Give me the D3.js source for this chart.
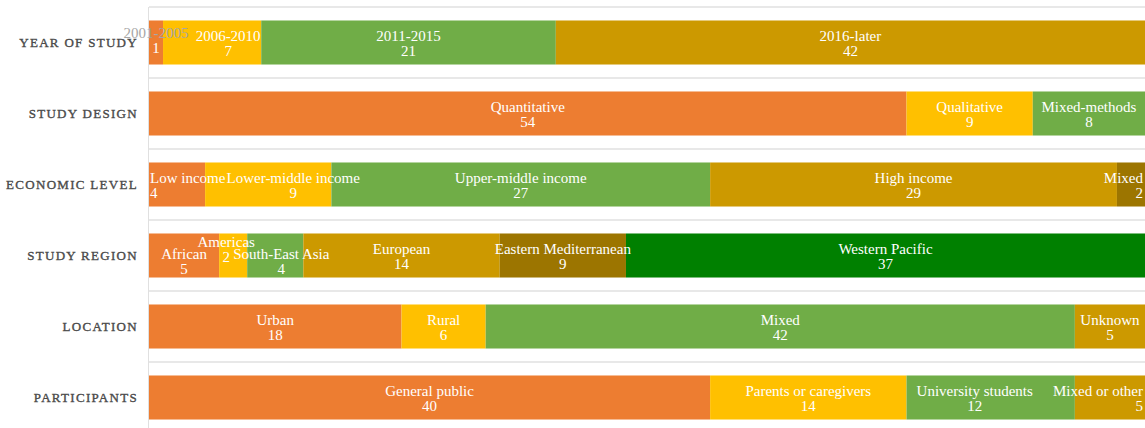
<!DOCTYPE html>
<html>
<head>
<meta charset="utf-8">
<script src="https://cdn.jsdelivr.net/npm/d3@7"></script>
<style>
  body { margin: 0; background: #fff; }
  .row-label { font-family: "Liberation Serif", serif; font-size: 13px; letter-spacing: 1.3px; fill: #4a4a4a; stroke: #4a4a4a; stroke-width: 0.35px; }
  .seg-label { font-family: "Liberation Serif", serif; font-size: 15px; fill: #fff; }
</style>
</head>
<body>
<div id="chart"></div>
<script>
// Row names (top to bottom)
const rows = ["YEAR OF STUDY", "STUDY DESIGN", "ECONOMIC LEVEL", "STUDY REGION", "LOCATION", "PARTICIPANTS"];

// Categories and counts for each row
const yearCats = ["2001-2005", "2006-2010", "2011-2015", "2016-later"];
const yearVals = [1, 7, 21, 42];
const designCats = ["Quantitative", "Qualitative", "Mixed-methods"];
const designVals = [54, 9, 8];
const econCats = ["Low income", "Lower-middle income", "Upper-middle income", "High income", "Mixed"];
const econVals = [4, 9, 27, 29, 2];
const regionCats = ["African", "Americas", "South-East Asia", "European", "Eastern Mediterranean", "Western Pacific"];
const regionVals = [5, 2, 4, 14, 9, 37];
const locationCats = ["Urban", "Rural", "Mixed", "Unknown"];
const locationVals = [18, 6, 42, 5];
const partCats = ["General public", "Parents or caregivers", "University students", "Mixed or other"];
const partVals = [40, 14, 12, 5];

const rowCats = [yearCats, designCats, econCats, regionCats, locationCats, partCats];
const rowVals = [yearVals, designVals, econVals, regionVals, locationVals, partVals];

// colour by position within row
const palette = ["#ED7D31", "#FFC000", "#70AD47", "#CC9900", "#9C7500", "#008000"];

// label nudges where the original layout moved crowded labels
const labelTweaks = {
  "YEAR OF STUDY|2001-2005": {dy: -3, color1: "#a6a6a6"},
  "YEAR OF STUDY|2006-2010": {dx: 16},
  "ECONOMIC LEVEL|Lower-middle income": {dx: 25},
  "STUDY REGION|African": {dy: 5},
  "STUDY REGION|Americas": {dx: -7, dy: -7},
  "STUDY REGION|South-East Asia": {dx: 6, dy: 5},
  "PARTICIPANTS|University students": {dx: -16}
};

const width = 1145, height = 428;
const left = 149;

const svg = d3.select("#chart").append("svg")
  .attr("width", width)
  .attr("height", height);

const x = d3.scaleLinear().domain([0, 71]).range([left, width]);
const y = d3.scaleBand().domain(rows).range([7, 433]).paddingInner(0.38).paddingOuter(0.19);

// gridlines at band boundaries
const step = y.step();
svg.append("g").selectAll("line")
  .data(rows)
  .enter().append("line")
  .attr("x1", left).attr("x2", width)
  .attr("y1", d => y(d) - step * 0.19)
  .attr("y2", d => y(d) - step * 0.19)
  .attr("stroke", "#e0e0e0")
  .attr("stroke-width", 1.5);

svg.append("line")
  .attr("x1", left - 0.5).attr("x2", left - 0.5)
  .attr("y1", 7).attr("y2", height)
  .attr("stroke", "#e0e0e0");

// build segments
const segs = [];
rows.forEach((r, i) => {
  let acc = 0;
  rowCats[i].forEach((c, j) => {
    segs.push({row: r, cat: c, val: rowVals[i][j], x0: acc, x1: acc + rowVals[i][j], idx: j});
    acc += rowVals[i][j];
  });
});

svg.append("g").selectAll("rect")
  .data(segs)
  .enter().append("rect")
  .attr("x", d => x(d.x0))
  .attr("width", d => x(d.x1) - x(d.x0))
  .attr("y", d => y(d.row))
  .attr("height", y.bandwidth())
  .attr("fill", d => palette[d.idx]);

// segment labels
const lab = svg.append("g");
segs.forEach(d => {
  const t = labelTweaks[d.row + "|" + d.cat] || {};
  const cy = y(d.row) + y.bandwidth() / 2 + (t.dy || 0);
  let cx = (x(d.x0) + x(d.x1)) / 2 + (t.dx || 0);
  const g = lab.append("text")
    .attr("class", "seg-label")
    .attr("text-anchor", "middle");
  const t1 = g.append("tspan").attr("x", cx).attr("y", cy - 7)
    .attr("dominant-baseline", "central").text(d.cat);
  if (t.color1) t1.attr("fill", t.color1);
  g.append("tspan").attr("x", cx).attr("y", cy + 8)
    .attr("dominant-baseline", "central").text(d.val);
  if (!t.color1) {
    const w = t1.node().getComputedTextLength();
    if (cx - w / 2 < left) {
      g.attr("text-anchor", "start");
      g.selectAll("tspan").attr("x", left + 1);
    } else if (cx + w / 2 > width) {
      g.attr("text-anchor", "end");
      g.selectAll("tspan").attr("x", width - 2);
    }
  }
});

// row labels
svg.append("g").selectAll("text")
  .data(rows)
  .enter().append("text")
  .attr("class", "row-label")
  .attr("x", 138)
  .attr("y", d => y(d) + y.bandwidth() / 2)
  .attr("dominant-baseline", "central")
  .attr("text-anchor", "end")
  .text(d => d);
</script>
</body>
</html>
